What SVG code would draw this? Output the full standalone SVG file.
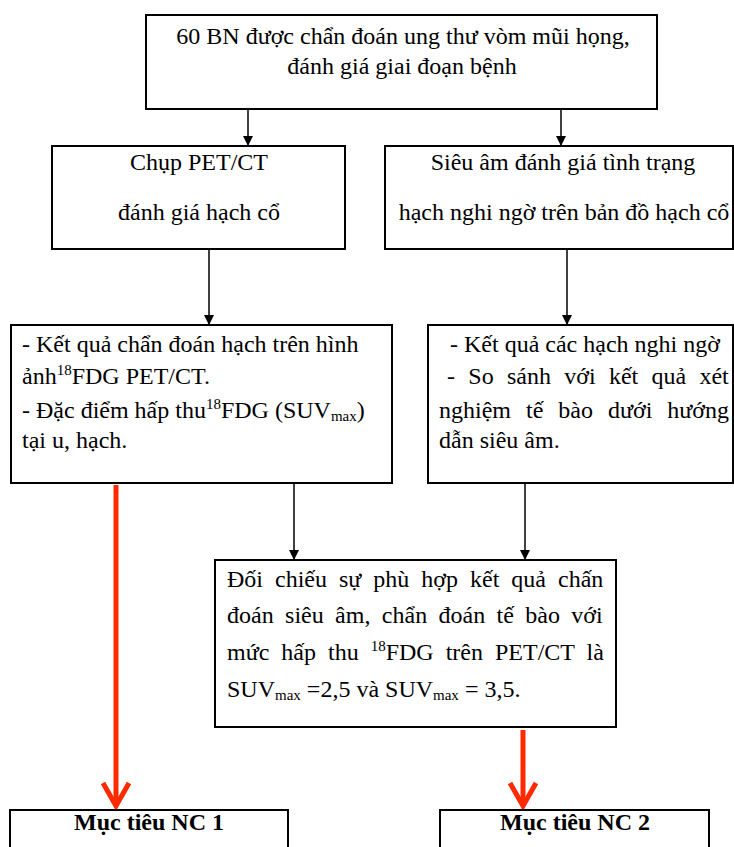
<svg xmlns="http://www.w3.org/2000/svg" width="734" height="847" viewBox="0 0 734 847">
<style>
.box{fill:#fff;stroke:#000;stroke-width:2}
.t{font-family:"Liberation Serif","Times New Roman",serif;font-size:24px;fill:#000}
.c{text-anchor:middle}
.b{font-weight:bold}
.ln{stroke:#000;stroke-width:1.5;fill:none}
.red{stroke:#ff2a00;stroke-width:5;fill:none}
</style>
<defs>
<marker id="ah" markerWidth="10" markerHeight="10" refX="9" refY="5" orient="auto" markerUnits="userSpaceOnUse">
<path d="M0,0 L10,5 L0,10 z" fill="#000"/>
</marker>
</defs>
<rect width="734" height="847" fill="#fff"/>
<g id="connectors">
<line class="ln" x1="248" y1="109" x2="248" y2="145" marker-end="url(#ah)"/>
<line class="ln" x1="561" y1="109" x2="561" y2="145" marker-end="url(#ah)"/>
<line class="ln" x1="209" y1="249" x2="209" y2="324" marker-end="url(#ah)"/>
<line class="ln" x1="567" y1="249" x2="567" y2="324" marker-end="url(#ah)"/>
<line class="ln" x1="294" y1="483" x2="294" y2="559" marker-end="url(#ah)"/>
<line class="ln" x1="525" y1="483" x2="525" y2="559" marker-end="url(#ah)"/>
<line class="red" x1="116" y1="485" x2="116" y2="804"/>
<polyline class="red" points="103,783 116,806 129,783"/>
<line class="red" x1="523" y1="730" x2="523" y2="804"/>
<polyline class="red" points="510,783 523,806 536,783"/>
</g>
<g id="n1">
<rect class="box" x="146" y="15" width="511" height="94"/>
<text class="t c" x="403" y="44">60 BN được chẩn đoán ung thư vòm mũi họng,</text>
<text class="t c" x="402" y="74">đánh giá giai đoạn bệnh</text>
</g>
<g id="n2">
<rect class="box" x="52" y="146" width="293" height="103"/>
<text class="t c" x="199" y="170">Chụp PET/CT</text>
<text class="t c" x="199" y="220">đánh giá hạch cổ</text>
</g>
<g id="n3">
<rect class="box" x="385" y="146" width="348" height="103"/>
<text class="t c" x="563" y="170">Siêu âm đánh giá tình trạng</text>
<text class="t c" x="564" y="220">hạch nghi ngờ trên bản đồ hạch cổ</text>
</g>
<g id="n4">
<rect class="box" x="11" y="325" width="381" height="158"/>
<text class="t" x="22" y="352">- Kết quả chẩn đoán hạch trên hình</text>
<text class="t" x="22" y="384">ảnh<tspan font-size="15" dy="-9">18</tspan><tspan dy="9">FDG PET/CT.</tspan></text>
<text class="t" x="22" y="418">- Đặc điểm hấp thu<tspan font-size="15" dy="-9">18</tspan><tspan dy="9">FDG (SUV</tspan><tspan font-size="15" dy="3">max</tspan><tspan dy="-3">)</tspan></text>
<text class="t" x="22" y="448">tại u, hạch.</text>
</g>
<g id="n5">
<rect class="box" x="428" y="325" width="305" height="158"/>
<text class="t" x="450" y="352">- Kết quả các hạch nghi ngờ</text>
<text class="t" x="447" y="384" word-spacing="7.3">- So sánh với kết quả xét</text>
<text class="t" x="439" y="418" word-spacing="9">nghiệm tế bào dưới hướng</text>
<text class="t" x="439" y="448">dẫn siêu âm.</text>
</g>
<g id="n6">
<rect class="box" x="215" y="560" width="401" height="167"/>
<text class="t" x="227" y="587" word-spacing="6">Đối chiếu sự phù hợp kết quả chấn</text>
<text class="t" x="227" y="623" word-spacing="5.4">đoán siêu âm, chẩn đoán tế bào với</text>
<text class="t" x="227" y="660" word-spacing="6">mức hấp thu <tspan font-size="15" dy="-9">18</tspan><tspan dy="9">FDG trên PET/CT là</tspan></text>
<text class="t" x="227" y="697">SUV<tspan font-size="15" dy="3">max</tspan><tspan dy="-3"> =2,5 và SUV</tspan><tspan font-size="15" dy="3">max</tspan><tspan dy="-3"> = 3,5.</tspan></text>
</g>
<g id="n7">
<rect class="box" x="10" y="810" width="278" height="50"/>
<text class="t c b" x="149" y="830">Mục tiêu NC 1</text>
</g>
<g id="n8">
<rect class="box" x="440" y="810" width="269" height="50"/>
<text class="t c b" x="575" y="830">Mục tiêu NC 2</text>
</g>
</svg>
